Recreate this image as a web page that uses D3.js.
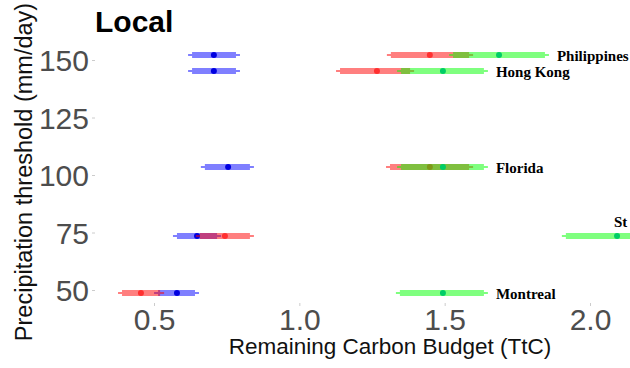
<!DOCTYPE html>
<html>
<head>
<meta charset="utf-8">
<script src="https://cdn.jsdelivr.net/npm/d3@7"></script>
<style>
  body { margin: 0; background: #fff; }
  svg { display: block; }
</style>
</head>
<body>
<div id="chart"></div>
<script>
// Rows of the "Local" panel (y = precipitation threshold, dodged a little)
const regions = ["Philippines", "Hong Kong", "Florida", "St", "Montreal"];
const thresholds = [152.2, 145.2, 103.5, 73.5, 48.7];

// Remaining carbon budget ranges (TtC): [low, high, central]
const blueRange = [
  [0.631, 0.782, 0.706],
  [0.631, 0.782, 0.706],
  [0.675, 0.830, 0.755],
  [0.579, 0.717, 0.648],
  [0.514, 0.641, 0.579]
];
const redRange = [
  [1.315, 1.584, 1.449],
  [1.140, 1.381, 1.267],
  [1.312, 1.584, 1.449],
  [0.658, 0.830, 0.744],
  [0.390, 0.521, 0.455]
];
const greenRange = [
  [1.529, 1.845, 1.687],
  [1.350, 1.635, 1.494],
  [1.350, 1.635, 1.494],
  [1.917, 2.250, 2.093],
  [1.346, 1.635, 1.494]
];

const xTicks = [0.5, 1.0, 1.5, 2.0];
const yTicks = [50, 75, 100, 125, 150];

const width = 630;
const height = 368;

const svg = d3.select("#chart")
  .append("svg")
  .attr("width", width)
  .attr("height", height);

const x = d3.scaleLinear().domain([0.5, 2.0]).range([154, 590]);
const y = d3.scaleLinear().domain([50, 150]).range([290, 60]);

const series = [
  { data: blueRange, bar: "rgba(0,0,255,0.5)", dot: "#0000e0" },
  { data: redRange, bar: "rgba(255,0,0,0.5)", dot: "#ff3030" },
  { data: greenRange, bar: "rgba(0,255,0,0.5)", dot: "#00cd66" }
];

// tapered range bar: thick middle, thin tips
function rangePath(lo, hi, yy) {
  const a = x(lo), b = x(hi);
  const t = 4, w = 3, n = 1;
  return `M${a - t},${yy - n}L${a},${yy - n}L${a},${yy - w}L${b},${yy - w}L${b},${yy - n}` +
         `L${b + t},${yy - n}L${b + t},${yy + n}L${b},${yy + n}L${b},${yy + w}L${a},${yy + w}` +
         `L${a},${yy + n}L${a - t},${yy + n}Z`;
}

const plot = svg.append("g");

series.forEach(s => {
  const g = plot.append("g");
  g.selectAll("path")
    .data(s.data)
    .enter().append("path")
    .attr("d", (d, i) => rangePath(d[0], d[1], y(thresholds[i])))
    .attr("fill", s.bar);
  g.selectAll("circle")
    .data(s.data)
    .enter().append("circle")
    .attr("cx", d => x(d[2]))
    .attr("cy", (d, i) => y(thresholds[i]))
    .attr("r", 3)
    .attr("fill", s.dot);
});

// region labels next to the green range (nudged above when there is no room)
plot.append("g")
  .selectAll("text")
  .data(regions)
  .enter().append("text")
  .attr("x", (d, i) => {
    const px = x(greenRange[i][1]) + 12;
    return px > width - 40 ? x(greenRange[i][2]) - 3 : px;
  })
  .attr("y", (d, i) => {
    const px = x(greenRange[i][1]) + 12;
    return y(thresholds[i]) + (px > width - 40 ? -14 : 1);
  })
  .attr("dy", "0.35em")
  .style("font-family", "'Liberation Serif', 'DejaVu Serif', serif")
  .style("font-weight", "bold")
  .style("font-size", "15px")
  .style("fill", "#000")
  .text(d => d);

// axes
const xAxis = svg.append("g")
  .attr("transform", "translate(0,303)")
  .call(d3.axisBottom(x).tickValues(xTicks).tickFormat(d3.format(".1f")).tickSize(3).tickPadding(3));
const yAxis = svg.append("g")
  .attr("transform", "translate(95,0)")
  .call(d3.axisLeft(y).tickValues(yTicks).tickSize(3).tickPadding(3));

[xAxis, yAxis].forEach(ax => {
  ax.select(".domain").remove();
  ax.selectAll(".tick line").attr("stroke", "#cccccc");
  ax.selectAll(".tick text")
    .style("font-family", "'Liberation Sans', Arial, sans-serif")
    .style("font-size", "30px")
    .style("fill", "#4d4d4d");
});
yAxis.selectAll(".tick text").attr("dy", "0.36em");

svg.append("text")
  .attr("x", 390)
  .attr("y", 354)
  .attr("text-anchor", "middle")
  .style("font-family", "'Liberation Sans', Arial, sans-serif")
  .style("font-size", "22.5px")
  .style("fill", "#111")
  .text("Remaining Carbon Budget (TtC)");

svg.append("text")
  .attr("transform", "translate(32,172) rotate(-90)")
  .attr("text-anchor", "middle")
  .style("font-family", "'Liberation Sans', Arial, sans-serif")
  .style("font-size", "23.5px")
  .style("fill", "#111")
  .text("Precipitation threshold (mm/day)");

svg.append("text")
  .attr("x", 95)
  .attr("y", 32)
  .style("font-family", "'Liberation Sans', Arial, sans-serif")
  .style("font-weight", "bold")
  .style("font-size", "30px")
  .style("fill", "#000")
  .text("Local");
</script>
</body>
</html>
